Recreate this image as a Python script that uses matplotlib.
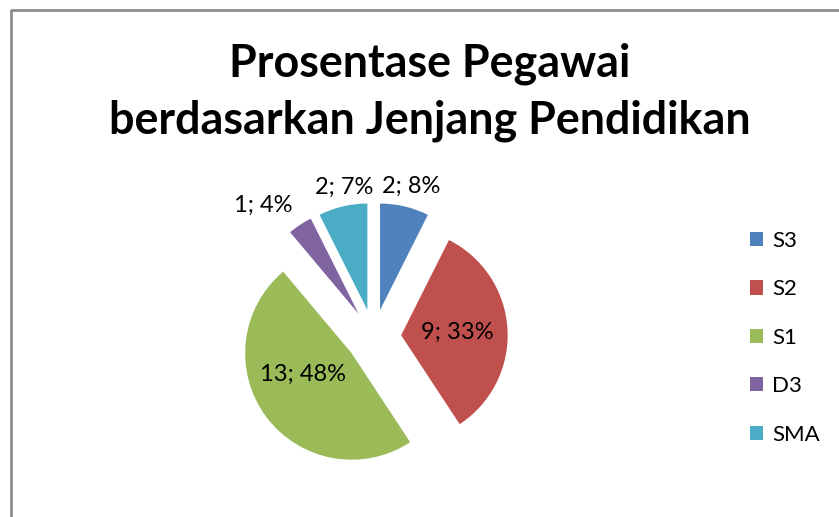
import numpy as np
import matplotlib
matplotlib.use("Agg")
import matplotlib.pyplot as plt

plt.rcParams['font.family'] = ['Lato', 'DejaVu Sans']

# Data
categories = ["S3", "S2", "S1", "D3", "SMA"]
counts = [2, 9, 13, 1, 2]
pct_labels = ["8%", "33%", "48%", "4%", "7%"]
colors = ["#4F81BD", "#C0504D", "#9BBB59", "#8064A2", "#4BACC6"]

W, H = 839, 517
fig = plt.figure(figsize=(W / 100, H / 100), dpi=100)
ax = fig.add_axes([0, 0, 1, 1])

R = 106.5
cx, cy = 373.7, H - 336.8
wedges, _ = ax.pie(counts, colors=colors, startangle=90, counterclock=False,
                   radius=R, center=(cx, cy), explode=[27.5] * len(counts),
                   frame=True)
ax.set_xlim(0, W)
ax.set_ylim(0, H)
ax.set_aspect('equal')
ax.axis('off')

# chart border (cut off at right/bottom)
ax.plot([11, 11, W + 10], [-10, H - 10, H - 10], color="#8c8c8c",
        linewidth=2, clip_on=False, solid_capstyle='butt')

# data labels: radial distance (fraction of R) and angle tweak per slice
dist = [1.46, 0.79, 0.75, 1.61, 1.43]
tweak = [-0.6, 0, -8.3, 6.7, -2.3]
for w, n, p, d, t in zip(wedges, counts, pct_labels, dist, tweak):
    mid = np.deg2rad((w.theta1 + w.theta2) / 2 + t)
    x = cx + d * R * np.cos(mid)
    y = cy + d * R * np.sin(mid)
    ax.text(x, y, "%d; %s" % (n, p), ha='center', va='center', fontsize=17,
            color='black')

fig.text(430 / W, 1 - 92 / H, "Prosentase Pegawai\nberdasarkan Jenjang Pendidikan",
         ha='center', va='center', fontsize=32.3, fontweight='bold',
         linespacing=1.42)

fig.legend(wedges, categories, loc='upper left',
           bbox_to_anchor=(741 / W, 1 - 222 / H), frameon=False,
           fontsize=16, handlelength=0.6, handleheight=0.6,
           handletextpad=0.4, labelspacing=1.28, borderaxespad=0)

fig.savefig("out.png", dpi=100)
